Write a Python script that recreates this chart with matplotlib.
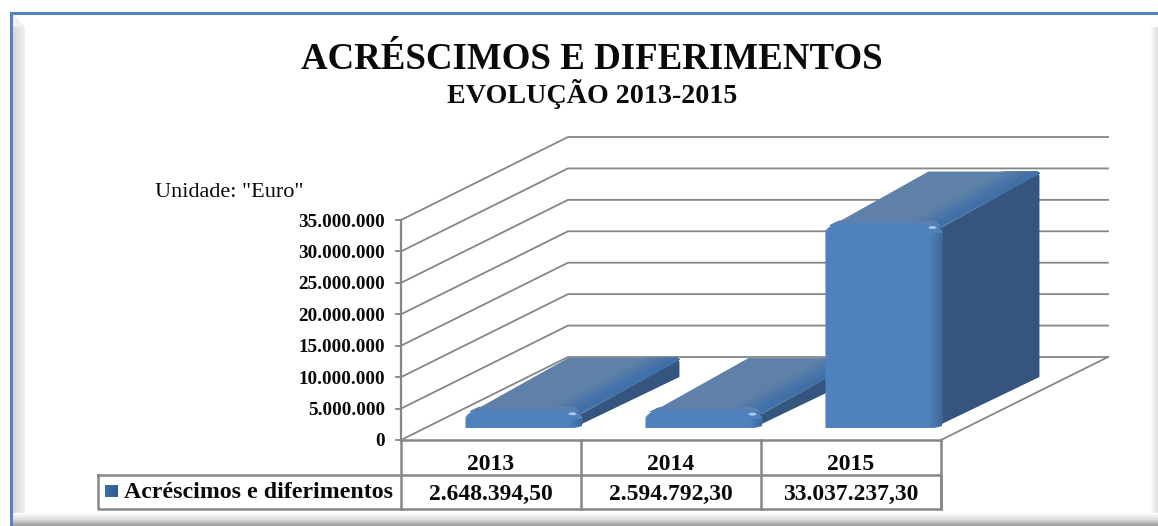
import numpy as np
import matplotlib
matplotlib.use("Agg")
import matplotlib.pyplot as plt
from matplotlib.patches import Polygon, Ellipse
from matplotlib.colors import LinearSegmentedColormap, to_rgb

plt.rcParams["font.family"] = ["Liberation Serif", "DejaVu Serif"]

years = ["2013", "2014", "2015"]
values = [2648394.50, 2594792.30, 33037237.30]
value_labels = ["2.648.394,50", "2.594.792,30", "33.037.237,30"]
y_ticks = [0, 5000000, 10000000, 15000000, 20000000, 25000000, 30000000, 35000000]
y_tick_labels = ["0", "5.000.000", "10.000.000", "15.000.000", "20.000.000",
                 "25.000.000", "30.000.000", "35.000.000"]
series_name = "Acréscimos e diferimentos"
title = "ACRÉSCIMOS E DIFERIMENTOS"
subtitle = "EVOLUÇÃO 2013-2015"
unit_label = 'Unidade: "Euro"'

W, H = 1158, 526
GRID = "#868686"
INK = "#0a0a0a"

# the axes fill the figure; x is in categories, y in euros on the front plane
sx = 1 / 180
sy = 35000000 / 220
fig = plt.figure(figsize=(W / 100, H / 100), dpi=100)
ax = fig.add_axes([0, 0, 1, 1])
ax.axis("off")
xlim = (-401 * sx, (W - 401) * sx)
ylim = ((440 - H) * sy, 440 * sy)


def X(px):
    return (px - 401) * sx


def Y(py):
    return (440 - py) * sy


def P(points):
    return [(X(a), Y(b)) for a, b in points]


def gradient(x0, x1, y0, y1, colors, horizontal=True, z=1):
    cmap = LinearSegmentedColormap.from_list("g", colors)
    g = np.linspace(0, 1, 64)
    g = g[None, :] if horizontal else g[:, None]
    ax.imshow(g, cmap=cmap, extent=(X(x0), X(x1), Y(y1), Y(y0)), origin="upper",
              aspect="auto", zorder=z, interpolation="bilinear")


def mix(c0, c1, f):
    a, b = np.array(to_rgb(c0)), np.array(to_rgb(c1))
    return tuple(a + (b - a) * f)


def arc(cx, cy, rx, ry, a0, a1):
    # corner points around (cx, cy), radii in data units
    t = np.radians(np.linspace(a0, a1, 8))
    return [(cx + rx * np.cos(u), cy + ry * np.sin(u)) for u in t]


# frame
gradient(12, 25, 14, 518, ["#d6d6d6", "#efefef"], z=1)
gradient(12, W, 513, 526, ["#ffffff", "#dcdcdc", "#9c9c9c"], horizontal=False, z=1.1)
gradient(1150, 1158, 27, 516, ["#ffffff", "#dedede"], z=1)
ax.add_patch(Polygon(P([(12, 14), (25, 27), (12, 27)]), fc="#efefef", ec="none", zorder=1.2))
ax.add_patch(Polygon(P([(12, 14), (25, 27), (25, 14)]), fc="white", ec="none", zorder=1.2))
ax.plot(*zip(*P([(11, 526), (11, 13), (1158, 13)])), color="#5585bf", lw=2.2, zorder=2,
        solid_joinstyle="miter")

# walls and floor
depth_x = 167 * sx
depth_y = 83 * sy
for t in y_ticks:
    ax.plot([0, depth_x, 3 + depth_x], [t, t + depth_y, t + depth_y], color=GRID, lw=1.3,
            zorder=3, solid_joinstyle="miter")
    ax.plot([-5 * sx, 0], [t, t], color=GRID, lw=1.3, zorder=3)
ax.plot([0, 0], [0, y_ticks[-1]], color=GRID, lw=1.6, zorder=3)
ax.plot([3, 3 + depth_x], [0, depth_y], color=GRID, lw=1.3, zorder=3)
ax.plot([0, 3], [0, 0], color=GRID, lw=1.8, zorder=3)

# bars
bar_left = 0.358
bar_w = 117 * sx
bar_base = 12 * sy
bar_dx = 103 * sx
bar_dy = 54 * sy
bar_scale = 0.975
rad_x, rad_y = 11 * sx, 7 * sy
for i, v in enumerate(values):
    z = 4 + i
    l = i + bar_left
    r = l + bar_w
    b = bar_base
    t = b + v * bar_scale
    # side face
    ax.add_patch(Polygon([(r - 9 * sx, b), (r + bar_dx - 6 * sx, b + bar_dy - 3 * sy),
                          (r + bar_dx - 6 * sx, t + bar_dy - 4 * sy), (r + bar_dx - 9 * sx, t + bar_dy),
                          (r - 9 * sx, t)], fc="#34557d", ec="none", zorder=z))
    # top face, plain at the back and bluer towards the right edge
    back = arc(r + bar_dx - 10 * sx, t + bar_dy - 2 * sy, 4 * sx, 2 * sy, 90, 0)
    ax.add_patch(Polygon([(l + 3 * sx, t - 2 * sy), (l + bar_dx, t + bar_dy)] + back + [(r, t - 2 * sy)],
                         fc="#5f80a8", ec="none", zorder=z))
    n_strips = 14
    for k in range(n_strips):
        f = k / (n_strips - 1)
        x0 = r - (44 - 34 * f) * sx
        ax.add_patch(Polygon([(x0, t - 1 * sy), (x0 + bar_dx, t + bar_dy)] + back + [(r - 4 * sx, t - 2 * sy)],
                             fc=mix("#5f80a8", "#3f70a8", f), ec="none", zorder=z + 0.001 * k))
    # band where the top meets the front
    n_band = 5
    for k in range(n_band):
        f = k / (n_band - 1)
        h = (5 - 4 * f) * sy
        ax.add_patch(Polygon([(l + 4 * sx, t), (l + 4 * sx + h / sy * 1.9 * sx, t + h),
                              (r - 8 * sx, t + h), (r - 2 * sx, t)],
                             fc=mix("#5f80a8", "#4f81bd", f), ec="none", zorder=z + 0.05 + 0.001 * k))
    # front face with rounded corners
    front = [(l, b), (l, t - rad_y)] + arc(l + rad_x, t - rad_y, rad_x, rad_y, 180, 90)
    front += arc(r - rad_x, t - rad_y, rad_x, rad_y, 90, 0)
    front += arc(r - rad_x, b + rad_y * 0.6, rad_x, rad_y * 0.6, 0, -90)
    ax.add_patch(Polygon(front, fc="#4f81bd", ec="none", zorder=z + 0.1))
    # bevel down the right edge
    for k in range(8):
        f = k / 7
        x0 = r - (14 - 13 * f) * sx
        edge = [(x0, b + 1 * sy), (x0, t - rad_y), (r, t - rad_y), (r, b + 3 * sy)]
        if t - rad_y > b + 3 * sy:
            ax.add_patch(Polygon(edge, fc=mix("#4f81bd", "#3d6896", f), ec="none", zorder=z + 0.2 + 0.01 * k))
    ax.add_patch(Ellipse((r - 10 * sx, t - 2 * sy), 8 * sx, 3 * sy, angle=0, fc="#a9c8ea", ec="none", zorder=z + 0.4))

# tick labels
for t, lab in zip(y_ticks, y_tick_labels):
    ax.text(X(385), t - 2 * sy, lab, ha="right", va="center", fontsize=13.8, fontweight="bold",
            color=INK, zorder=10)

# data table
ax.plot([X(98), X(98), 3, 3, X(98)], [Y(475), Y(509), Y(509), Y(475), Y(475)], color=GRID, lw=1.8, zorder=9)
for i in range(4):
    ax.plot([i, i], [0, Y(509)], color=GRID, lw=1.8, zorder=9)
for i, (yr, lab) in enumerate(zip(years, value_labels)):
    ax.text(i + 0.5, Y(464), yr, ha="center", va="center", fontsize=17, fontweight="bold", color=INK, zorder=10)
    ax.text(i + 0.5, Y(494), lab, ha="center", va="center", fontsize=17, fontweight="bold", color=INK, zorder=10)
gradient(105, 118, 485, 497, ["#3f6fa8", "#2f5a8c"], z=10)
ax.text(X(124), Y(493), series_name, ha="left", va="center", fontsize=17.2, fontweight="bold",
        color=INK, zorder=10)

# titles
ax.text(X(592), Y(59), title, ha="center", va="center", fontsize=26.6, fontweight="bold", color=INK, zorder=10)
ax.text(X(592), Y(94), subtitle, ha="center", va="center", fontsize=20.2, fontweight="bold", color=INK, zorder=10)
ax.text(X(155), Y(192), unit_label, ha="left", va="center", fontsize=16, color=INK, zorder=10)

ax.set_xlim(*xlim)
ax.set_ylim(*ylim)
fig.savefig("out.png", dpi=100)
